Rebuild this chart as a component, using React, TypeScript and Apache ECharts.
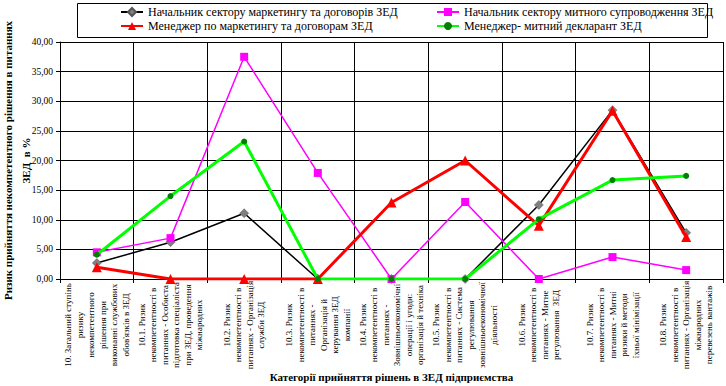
import React, { useEffect, useRef } from "react";
import * as echarts from "echarts";

const categories: string[] = [
  "10. Загальний ступінь\nризику\nнекомпетентного\nрішення при\nвиконанні службових\nобов'язків в ЗЕД",
  "10.1. Ризик\nнекомпетентності в\nпитаннях - Особиста\nпідготовка спеціаліста\nпри ЗЕД, проведення\nміжнародних",
  "10.2. Ризик\nнекомпетентності в\nпитаннях - Організація\nслужби ЗЕД",
  "10.3. Ризик\nнекомпетентності в\nпитаннях -\nОрганізація й\nкерування ЗЕД\nкомпанії",
  "10.4. Ризик\nнекомпетентності в\nпитаннях -\nЗовнішньоекономічні\nоперації і угоди:\nорганізація й техніка",
  "10.5. Ризик\nнекомпетентності в\nпитаннях - Система\nрегулювання\nзовнішньоекономічної\nдіяльності",
  "10.6. Ризик\nнекомпетентності в\nпитаннях - Митне\nрегулювання  ЗЕД",
  "10.7. Ризик\nнекомпетентності в\nпитаннях - Митні\nризики й методи\nїхньої мінімізації",
  "10.8. Ризик\nнекомпетентності в\nпитаннях - Організація\nміжнародних\nперевезень вантажів",
];

const seriesNames: string[] = [
  "Начальник сектору маркетингу та договорів ЗЕД",
  "Начальник сектору митного супроводження ЗЕД",
  "Менеджер по маркетингу та договорам ЗЕД",
  "Менеджер- митний декларант ЗЕД",
];

const headMarketing: number[] = [2.7, 6.2, 11.1, 0, 0, 0, 12.5, 28.5, 7.8];
const headCustoms: number[] = [4.5, 6.9, 37.5, 17.9, 0, 13.0, 0, 3.7, 1.5];
const managerMarketing: number[] = [2.0, 0, 0, 0, 12.9, 20.0, 9.0, 28.4, 7.1];
const customsDeclarant: number[] = [4.1, 14.0, 23.2, 0, 0, 0, 10.1, 16.7, 17.4];

const yAxisTitle = "Ризик прийняття некомпетентного рішення в питаннях\nЗЕД  в %";
const xAxisTitle = "Категорії прийняття рішень в ЗЕД підприємства";

const FONT = "'Liberation Serif', serif";

export default function App() {
  const ref = useRef<HTMLDivElement>(null);
  useEffect(() => {
    if (!ref.current) return;
    const chart = echarts.init(ref.current, null, { renderer: "svg" });
    const legendText = { fontFamily: FONT, fontSize: 12, color: "#000" };
    chart.setOption({
      animation: false,
      backgroundColor: "#fff",
      textStyle: { fontFamily: FONT },
      graphic: [
        {
          type: "rect",
          shape: { x: 77.5, y: 3.5, width: 630, height: 34 },
          style: { fill: "none", stroke: "#000", lineWidth: 1 },
          z: 0,
        },
      ],
      legend: [
        {
          data: [seriesNames[0], seriesNames[2]],
          orient: "vertical",
          left: 120,
          top: 6,
          itemGap: 2,
          itemWidth: 22,
          itemHeight: 10,
          padding: 0,
          textStyle: legendText,
        },
        {
          data: [seriesNames[1], seriesNames[3]],
          orient: "vertical",
          left: 436,
          top: 6,
          itemGap: 2,
          itemWidth: 22,
          itemHeight: 10,
          padding: 0,
          textStyle: legendText,
        },
      ],
      grid: { left: 60, right: 3, top: 42, bottom: 107, containLabel: false, outerBoundsMode: "none" },
      xAxis: {
        type: "category",
        data: categories,
        boundaryGap: true,
        name: xAxisTitle,
        nameLocation: "middle",
        nameGap: 92,
        nameMoveOverlap: false,
        nameTextStyle: { fontFamily: FONT, fontSize: 11, fontWeight: "bold", color: "#000" },
        axisLine: { show: true, lineStyle: { color: "#000", width: 1 } },
        axisTick: { show: true, length: 4, lineStyle: { color: "#000" } },
        splitLine: { show: true, lineStyle: { color: "#000", width: 1 } },
        axisLabel: {
          interval: 0,
          rotate: 90,
          align: "center",
          verticalAlign: "middle",
          margin: 46,
          fontFamily: FONT,
          fontSize: 9,
          lineHeight: 11.5,
          color: "#000",
        },
      },
      yAxis: {
        type: "value",
        min: 0,
        max: 40,
        interval: 5,
        name: yAxisTitle,
        nameLocation: "middle",
        nameRotate: 90,
        nameGap: 25,
        nameMoveOverlap: false,
        nameTextStyle: { fontFamily: FONT, fontSize: 11, fontWeight: "bold", color: "#000", lineHeight: 18 },
        axisLine: { show: true, lineStyle: { color: "#000", width: 1 } },
        axisTick: { show: true, length: 4, lineStyle: { color: "#000" } },
        splitLine: { show: true, lineStyle: { color: "#000", width: 1 } },
        axisLabel: {
          margin: 7,
          fontFamily: FONT,
          fontSize: 9.5,
          color: "#000",
          formatter: (v: number) => v.toFixed(2).replace(".", ","),
        },
      },
      series: [
        {
          name: seriesNames[0],
          type: "line",
          data: headMarketing,
          symbol: "diamond",
          symbolSize: 9,
          lineStyle: { color: "#000", width: 1.5 },
          itemStyle: { color: "#808080", borderColor: "#555", borderWidth: 0.5 },
          z: 2,
        },
        {
          name: seriesNames[1],
          type: "line",
          data: headCustoms,
          symbol: "rect",
          symbolSize: 8,
          lineStyle: { color: "#FF00FF", width: 1.5 },
          itemStyle: { color: "#FF00FF" },
          z: 3,
        },
        {
          name: seriesNames[2],
          type: "line",
          data: managerMarketing,
          symbol: "triangle",
          symbolSize: 10,
          lineStyle: { color: "#FF0000", width: 3 },
          itemStyle: { color: "#FF0000" },
          z: 4,
        },
        {
          name: seriesNames[3],
          type: "line",
          data: customsDeclarant,
          symbol: "circle",
          symbolSize: 6,
          lineStyle: { color: "#00FF00", width: 3 },
          itemStyle: { color: "#008000" },
          z: 5,
        },
      ],
    });
    return () => chart.dispose();
  }, []);
  return (
    <div
      ref={ref}
      style={{ position: "fixed", left: 0, top: 0, width: 726, height: 386, background: "#fff" }}
    />
  );
}
